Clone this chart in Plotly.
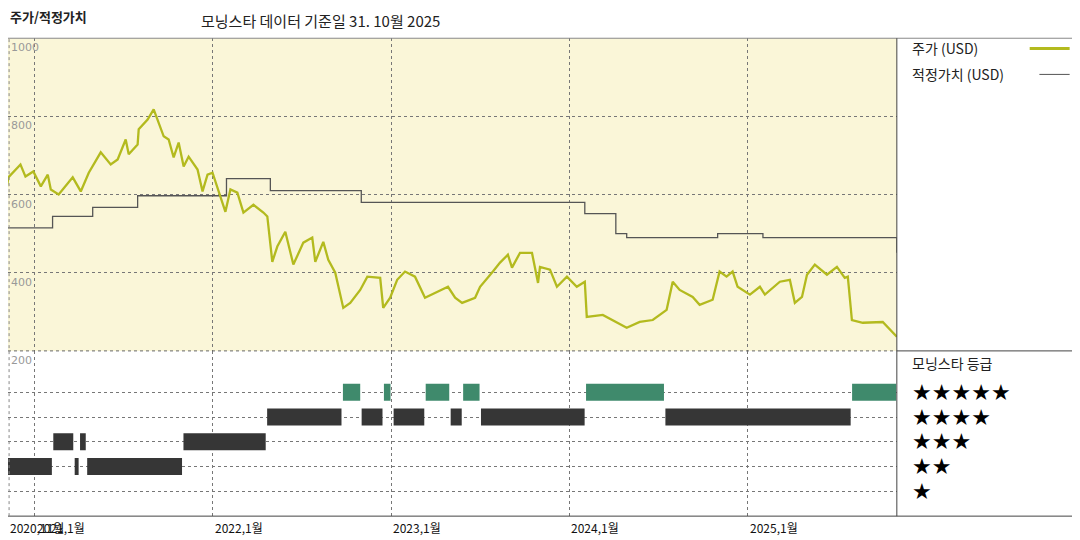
import pandas as pd
import plotly.graph_objects as go
from plotly.subplots import make_subplots

# price (USD), time as decimal years
price_t = [2020.838, 2020.854, 2020.922, 2020.95, 2020.994, 2021.034, 2021.073, 2021.09, 2021.134, 2021.213,
           2021.258, 2021.303, 2021.37, 2021.426, 2021.465, 2021.51, 2021.527, 2021.577, 2021.583, 2021.633,
           2021.667, 2021.689, 2021.723, 2021.751, 2021.779, 2021.807, 2021.835, 2021.863, 2021.913, 2021.941,
           2021.969, 2021.997, 2022.042, 2022.07, 2022.098, 2022.137, 2022.171, 2022.227, 2022.283, 2022.305,
           2022.333, 2022.361, 2022.406, 2022.451, 2022.507, 2022.557, 2022.574, 2022.619, 2022.647, 2022.686,
           2022.731, 2022.77, 2022.826, 2022.866, 2022.938, 2022.955, 2022.994, 2023.034, 2023.078, 2023.134,
           2023.19, 2023.258, 2023.275, 2023.319, 2023.359, 2023.398, 2023.471, 2023.499, 2023.571, 2023.611,
           2023.655, 2023.678, 2023.723, 2023.79, 2023.824, 2023.835, 2023.891, 2023.93, 2023.986, 2024.042,
           2024.087, 2024.098, 2024.188, 2024.244, 2024.322, 2024.395, 2024.468, 2024.546, 2024.58, 2024.619,
           2024.692, 2024.731, 2024.804, 2024.843, 2024.882, 2024.916, 2024.944, 2025.011, 2025.067, 2025.095,
           2025.179, 2025.235, 2025.263, 2025.303, 2025.331, 2025.375, 2025.443, 2025.499, 2025.543, 2025.56,
           2025.583, 2025.644, 2025.756, 2025.835]
price = [595, 644, 677, 646, 659, 621, 651, 613, 600, 644,
         608, 656, 708, 677, 690, 741, 703, 728, 767, 792,
         818, 792, 749, 741, 695, 733, 672, 697, 664, 608,
         651, 656, 595, 556, 613, 605, 554, 574, 554, 544,
         428, 467, 505, 421, 477, 490, 428, 479, 433, 400,
         310, 323, 356, 390, 387, 310, 336, 382, 403, 390,
         336, 351, 356, 364, 336, 323, 336, 364, 403, 426,
         446, 413, 451, 451, 374, 415, 408, 364, 390, 364,
         377, 287, 292, 279, 259, 274, 279, 305, 377, 356,
         338, 318, 331, 403, 390, 403, 364, 344, 364, 344,
         377, 382, 323, 338, 395, 421, 395, 415, 387, 390,
         279, 272, 274, 236]

# fair value (USD), step changes
fv_t = [2020.832, 2021.10, 2021.325, 2021.577, 2022.076, 2022.322, 2022.832, 2024.087, 2024.261, 2024.322,
        2024.832, 2025.084, 2025.83, 2025.835]
fv = [515, 544, 567, 597, 641, 610, 580, 551, 500, 490, 500, 490, 490, 451]

# Morningstar rating periods
rating_start = [2020.83, 2021.10, 2021.22, 2021.25, 2021.29, 2021.83, 2022.30, 2022.725, 2022.83, 2022.955,
                2023.01, 2023.19, 2023.33, 2023.40, 2023.50, 2024.09, 2024.535, 2025.58]
rating_end = [2021.10, 2021.22, 2021.25, 2021.29, 2021.83, 2022.30, 2022.725, 2022.83, 2022.955, 2023.00,
              2023.19, 2023.33, 2023.40, 2023.50, 2024.09, 2024.535, 2025.58, 2025.835]
rating = [2, 3, 2, 3, 2, 3, 4, 5, 4, 5, 4, 5, 4, 5, 4, 5, 4, 5]

y_ticks = [1000, 800, 600, 400, 200]
x_years = [2021, 2022, 2023, 2024, 2025]
x_labels = ['2021,1월', '2022,1월', '2023,1월', '2024,1월', '2025,1월']


def to_date(t):
    y = int(t)
    return pd.Timestamp(y, 1, 1) + pd.Timedelta(days=(t - y) * 365.25)


x_start, x_end = to_date(2020.852), to_date(2025.835)
XR = 0.823   # right edge of chart area
Y_TOP, Y_MID, Y_BOT = 0.944, 0.365, 0.059

fig = make_subplots(rows=2, cols=1, shared_xaxes=True, vertical_spacing=0)
fig.add_trace(go.Scatter(x=[to_date(t) for t in fv_t], y=fv, mode='lines', line=dict(color='#555555', width=1.3, shape='hv'),
                         hoverinfo='skip'), row=1, col=1)
fig.add_trace(go.Scatter(x=[to_date(t) for t in price_t], y=price, mode='lines', line=dict(color='#b3ba1e', width=2.3),
                         hoverinfo='skip'), row=1, col=1)

for s, e, r in zip(rating_start, rating_end, rating):
    fig.add_trace(go.Scatter(x=[to_date(s + 0.004), to_date(e - 0.004)], y=[r, r], mode='lines',
                             line=dict(color='#3f8a6c' if r == 5 else '#363636', width=17),
                             hoverinfo='skip'), row=2, col=1)

grid = dict(showgrid=True, gridcolor='#777777', griddash='dot', gridwidth=1)
fig.update_xaxes(range=[x_start, x_end], tickvals=[to_date(y) for y in x_years], showticklabels=False,
                 zeroline=False, **grid)
fig.update_yaxes(row=1, col=1, range=[200, 1000], tickvals=y_ticks, showticklabels=False, zeroline=False, **grid)
fig.update_yaxes(row=2, col=1, range=[0, 6.67], tickvals=[1, 2, 3, 4, 5], showticklabels=False, zeroline=False, **grid)

fig.update_layout(
    width=1080, height=540, showlegend=False, margin=dict(l=0, r=0, t=0, b=0),
    paper_bgcolor='white', plot_bgcolor='white',
    font=dict(family='Noto Sans CJK KR', color='#222222'),
    xaxis=dict(domain=[0, XR]), xaxis2=dict(domain=[0, XR]),
    yaxis=dict(domain=[Y_MID, Y_TOP]), yaxis2=dict(domain=[Y_BOT, Y_MID]),
)

# cream background for price panel
fig.add_shape(type='rect', xref='x domain', yref='y domain', x0=0, x1=1, y0=0, y1=1,
              fillcolor='#faf6d8', line=dict(width=0), layer='below')
# frame lines
line_dark = dict(color='#444444', width=1)
fig.add_shape(type='line', xref='paper', yref='paper', x0=0, x1=1, y0=Y_TOP, y1=Y_TOP, line=dict(color='#888888', width=1))
fig.add_shape(type='line', xref='paper', yref='paper', x0=XR, x1=1, y0=Y_MID, y1=Y_MID, line=line_dark)
fig.add_shape(type='line', xref='paper', yref='paper', x0=0, x1=1, y0=Y_BOT, y1=Y_BOT, line=line_dark)
fig.add_shape(type='line', xref='paper', yref='paper', x0=XR, x1=XR, y0=Y_BOT, y1=Y_TOP, line=line_dark)
fig.add_shape(type='line', xref='paper', yref='paper', x0=0.001, x1=0.001, y0=Y_BOT, y1=Y_TOP,
              line=dict(color='#888888', width=1, dash='dot'))
fig.add_shape(type='line', xref='paper', yref='paper', x0=0, x1=XR, y0=Y_MID, y1=Y_MID,
              line=dict(color='#666666', width=1, dash='dot'))

for v in y_ticks:
    fig.add_annotation(x=0.001, xref='paper', y=v, yref='y', text=str(v), showarrow=False,
                       xanchor='left', yanchor='top', yshift=-1, font=dict(size=11, color='#999999', family='DejaVu Sans'))
fig.add_annotation(x=0, xref='paper', y=Y_BOT - 0.002, yref='paper', text='2020,11월', showarrow=False,
                   xanchor='left', yanchor='top', font=dict(size=12, color='#111111'))
for yr, lab in zip(x_years, x_labels):
    fig.add_annotation(x=to_date(yr), xref='x', y=Y_BOT - 0.002, yref='paper', text=lab, showarrow=False,
                       xanchor='left', yanchor='top', font=dict(size=12, color='#111111'))

fig.add_annotation(x=0, xref='paper', y=0.985, yref='paper', text='<b>주가/적정가치</b>', showarrow=False,
                   xanchor='left', yanchor='middle', font=dict(size=13, color='#222222'))
fig.add_annotation(x=0.177, xref='paper', y=0.977, yref='paper', text='모닝스타 데이터 기준일 31. 10월 2025',
                   showarrow=False, xanchor='left', yanchor='middle', font=dict(size=15, color='#222222'))

# legend
LX = 0.835
fig.add_annotation(x=LX, xref='paper', y=0.925, yref='paper', text='주가 (USD)', showarrow=False,
                   xanchor='left', yanchor='middle', font=dict(size=14))
fig.add_shape(type='line', xref='paper', yref='paper', x0=0.946, x1=0.983, y0=0.925, y1=0.925,
              line=dict(color='#b3ba1e', width=3))
fig.add_annotation(x=LX, xref='paper', y=0.877, yref='paper', text='적정가치 (USD)', showarrow=False,
                   xanchor='left', yanchor='middle', font=dict(size=14))
fig.add_shape(type='line', xref='paper', yref='paper', x0=0.955, x1=0.983, y0=0.877, y1=0.877,
              line=dict(color='#555555', width=1))
fig.add_annotation(x=LX, xref='paper', y=0.343, yref='paper', text='모닝스타 등급', showarrow=False,
                   xanchor='left', yanchor='middle', font=dict(size=14))
for r in [5, 4, 3, 2, 1]:
    fig.add_annotation(x=LX, xref='paper', y=r, yref='y2', text='★' * r, showarrow=False,
                       xanchor='left', yanchor='middle', font=dict(size=22, color='#000000', family='DejaVu Sans'))

fig.write_html('out.html')
